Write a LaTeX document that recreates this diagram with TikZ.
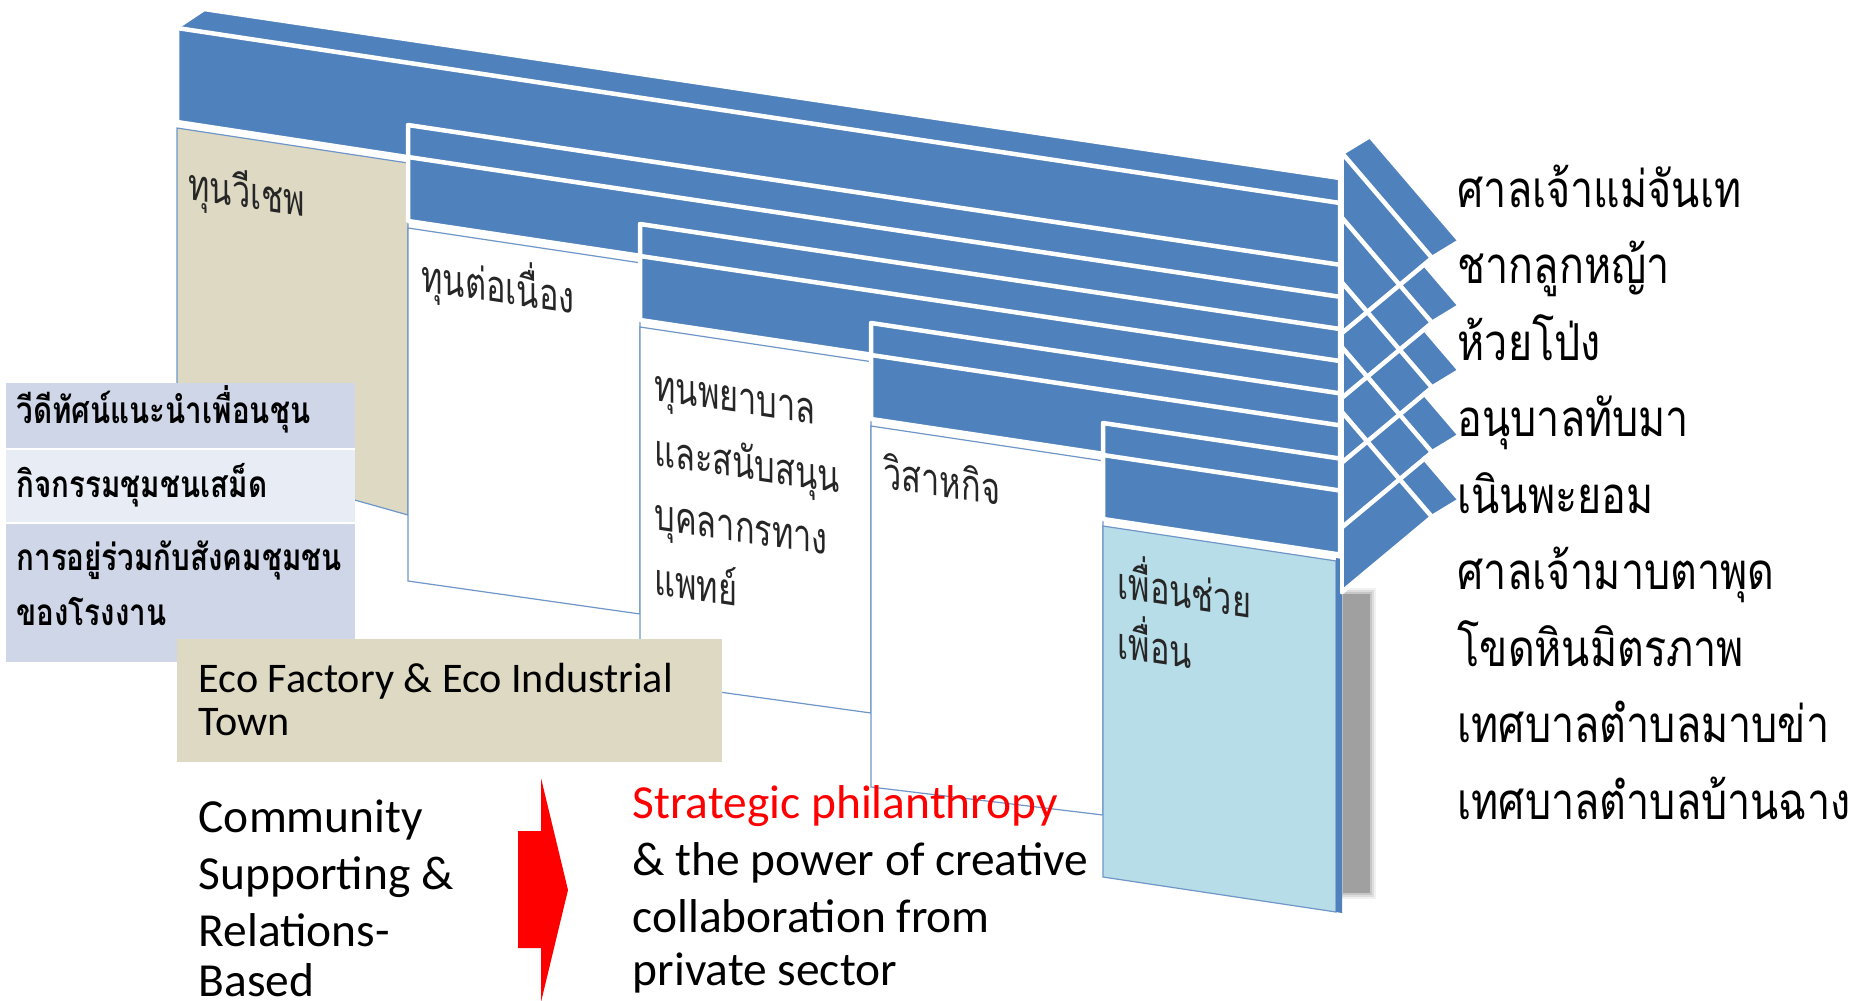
\documentclass[tikz,border=0pt]{standalone}
\usepackage{fontspec}
\setmainfont{Carlito}
\newfontfamily\thaifont[Script=Thai]{Loma}
\definecolor{bandblue}{RGB}{79,129,189}
\definecolor{tanc}{RGB}{221,217,195}
\definecolor{lightbluec}{RGB}{183,221,232}
\definecolor{rowa}{RGB}{207,214,232}
\definecolor{rowb}{RGB}{232,236,244}
\definecolor{shadowc}{RGB}{160,160,160}
\definecolor{paneledge}{RGB}{110,150,200}
\begin{document}
\begin{tikzpicture}[x=0.1mm,y=-0.1mm,
  band/.style={fill=bandblue, draw=white, line width=0.45mm, line join=round},
  sepline/.style={draw=white, line width=0.45mm},
  panel/.style={draw=paneledge, line width=0.12mm},
  headline/.style={draw=white, line width=0.45mm, line join=round, line cap=round},
  thaipanel/.style={font=\thaifont\fontsize{12.5}{15}\selectfont, text=black!85, anchor=base west, inner sep=0pt, yslant=-0.15, xscale=0.74},
  rightlist/.style={font=\thaifont\fontsize{14.5}{17}\selectfont, text=black, anchor=base west, inner sep=0pt, xscale=0.81},
  listtext/.style={font=\thaifont\bfseries\fontsize{10.5}{12}\selectfont, text=black, anchor=base west, inner sep=0pt, xscale=0.8},
  ecotext/.style={font=\fontsize{12}{14}\selectfont, text=black, anchor=base west, inner sep=0pt},
  bigtext/.style={font=\fontsize{13.5}{16}\selectfont, text=black, anchor=base west, inner sep=0pt}
]
\useasboundingbox (0,0) rectangle (1870,1000);
\begin{scope}
\clip (0,0) rectangle (1870,1000);
% soft shadow behind last panel
\foreach \k/\op in {6/0.15, 4/0.25, 2/0.35, 0/1} {
  \fill[shadowc, opacity=\op] ({1343-\k},{594-\k}) rectangle ({1370+\k},{893+\k});
}
% arrow 1
\filldraw[panel, fill=tanc] (177,128) -- (408,163) -- (408,515) -- (177,450) -- cycle;
\path[band] (177,27) -- (204,9) -- (1340,178) -- (1340,299) -- (177,122) -- cycle;
\draw[sepline] (177,28) -- (1340,203);
% arrows 2-5
\foreach \L/\T/\R/\bl/\br/\fc in {408/125/640/581/614/white, 640/224/871/681/713/white, 871/323/1103/787/815/white, 1103/423/1336/877/912/lightbluec} {
  \pgfmathsetmacro\dx{1340-\L}
  \pgfmathsetmacro\pr{\T+103+0.15*(\R-\L)}
  \filldraw[panel, fill=\fc] ({\L},{\T+103}) -- ({\R},{\pr}) -- ({\R},{\br}) -- ({\L},{\bl}) -- cycle;
  \path[band] ({\L},{\T}) -- (1340,{\T+0.15*\dx}) -- (1340,{\T+96+0.15*\dx}) -- ({\L},{\T+96}) -- cycle;
  \draw[sepline] ({\L},{\T+32}) -- (1340,{\T+32+0.15*\dx});
}
% side of last panel
\fill[bandblue] (1336,558) -- (1342,559) -- (1342,913) -- (1336,912) -- cycle;
% arrow heads: fills
\foreach \i in {0,...,4} {
  \pgfmathsetmacro\t{258+64.75*\i}
  \fill[bandblue] (1342,{\t-105}) -- (1370,{\t-122}) -- (1460,{\t-17}) -- (1432,{\t}) -- (1342,{\t+75}) -- cycle;
}
% arrow heads: white edges
\draw[headline] (1342,153) -- (1370,136) -- (1460,241);
\draw[headline] (1342,153) -- (1342,592);
\foreach \i in {0,...,4} {
  \pgfmathsetmacro\t{258+64.75*\i}
  \draw[headline] (1342,{\t-105}) -- (1432,{\t}) -- (1342,{\t+75});
  \draw[headline] (1432,{\t}) -- (1460,{\t-17});
}
\foreach \i in {1,...,4} {
  \pgfmathsetmacro\t{258+64.75*\i}
  \draw[headline] (1424.5,{\t-58.5}) -- (1460,{\t-17});
}
% panel texts
\node[thaipanel] (p1) at (188,199) {ทุนวีเชพ};
\node[thaipanel] (p2) at (421,291) {ทุนต่อเนื่อง};
\node[thaipanel] (p3a) at (654,400) {ทุนพยาบาล};
\node[thaipanel] (p3b) at (654,465) {และสนับสนุน};
\node[thaipanel] (p3c) at (654,529) {บุคลากรทาง};
\node[thaipanel] (p3d) at (654,594) {แพทย์};
\node[thaipanel] (p4) at (883,488) {วิสาหกิจ};
\node[thaipanel] (p5a) at (1117,598) {เพื่อนช่วย};
\node[thaipanel] (p5b) at (1117,658) {เพื่อน};
% right list
\node[rightlist] (r1) at (1457,207) {ศาลเจ้าแม่จันเท};
\node[rightlist] (r2) at (1457,283.5) {ชากลูกหญ้า};
\node[rightlist] (r3) at (1457,360) {ห้วยโป่ง};
\node[rightlist] (r4) at (1457,436.5) {อนุบาลทับมา};
\node[rightlist] (r5) at (1457,513) {เนินพะยอม};
\node[rightlist] (r6) at (1457,589.5) {ศาลเจ้ามาบตาพุด};
\node[rightlist] (r7) at (1457,666) {โขดหินมิตรภาพ};
\node[rightlist] (r8) at (1457,742.5) {เทศบาลตำบลมาบข่า};
\node[rightlist] (r9) at (1457,819) {เทศบาลตำบลบ้านฉาง};
% list box
\fill[rowa] (6,383) rectangle (355,449);
\fill[rowb] (6,449) rectangle (355,523);
\fill[rowa] (6,523) rectangle (355,662);
\draw[white, line width=0.25mm] (6,449) -- (355,449) (6,523) -- (355,523);
\node[listtext] (l1) at (16,423) {วีดีทัศน์แนะนำเพื่อนชุน};
\node[listtext] (l2) at (16,497) {กิจกรรมชุมชนเสม็ด};
\node[listtext] (l3) at (16,570) {การอยู่ร่วมกับสังคมชุมชน};
\node[listtext] (l4) at (16,625) {ของโรงงาน};
% eco box
\fill[tanc] (177,639) rectangle (722,762);
\node[ecotext] (e1) at (198,692) {Eco Factory \& Eco Industrial};
\node[ecotext] (e2) at (198,735) {Town};
% left text
\node[bigtext] (c1) at (198,832) {Community};
\node[bigtext] (c2) at (198,889) {Supporting \&};
\node[bigtext] (c3) at (198,946) {Relations-};
\node[bigtext] (c4) at (198,996) {Based};
% red arrow
\fill[red] (518,831) -- (541,831) -- (541,778) -- (568,890) -- (541,1002) -- (541,948) -- (518,948) -- cycle;
% right text
\node[bigtext, text=red] (s1) at (632,818) {Strategic philanthropy};
\node[bigtext] (s2) at (632,875) {\& the power of creative};
\node[bigtext] (s3) at (632,932) {collaboration from};
\node[bigtext] (s4) at (632,985) {private sector};
\end{scope}
\end{tikzpicture}
\end{document}
